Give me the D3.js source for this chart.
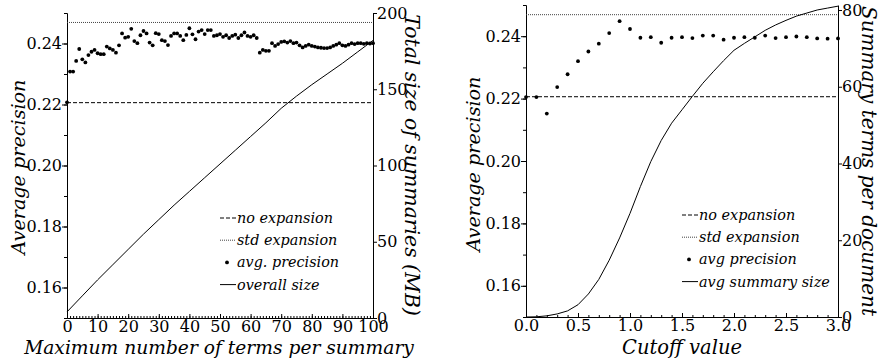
<!DOCTYPE html>
<html>
<head>
<meta charset="utf-8">
<script src="https://cdn.jsdelivr.net/npm/d3@7/dist/d3.min.js"></script>
<style>
  body { margin: 0; background: #fff; }
  svg { display: block; }
  .axis path, .axis line { stroke: #000; }
</style>
</head>
<body>
<svg id="chart" width="887" height="361"></svg>
<script>
// left panel: precision for each maximum number of terms (index = terms, 0..100)
const termsPrecision = [
  0.2207, 0.2308, 0.2308, 0.2343, 0.2382, 0.2348, 0.2338, 0.2362, 0.2373, 0.2379,
  0.2368, 0.2365, 0.2365, 0.2390, 0.2384, 0.2379, 0.2370, 0.2394, 0.2433, 0.2419,
  0.2422, 0.2448, 0.2408, 0.2401, 0.2427, 0.2441, 0.2433, 0.2403, 0.2394, 0.2434,
  0.2431, 0.2411, 0.2408, 0.2395, 0.2425, 0.2433, 0.2433, 0.2425, 0.2411, 0.2428,
  0.2450, 0.2430, 0.2414, 0.2439, 0.2444, 0.2431, 0.2444, 0.2444, 0.2425, 0.2427,
  0.2431, 0.2422, 0.2427, 0.2418, 0.2425, 0.2429, 0.2418, 0.2427, 0.2436, 0.2425,
  0.2422, 0.2427, 0.2418, 0.2370, 0.2379, 0.2376, 0.2376, 0.2401, 0.2392, 0.2398,
  0.2405, 0.2407, 0.2403, 0.2408, 0.2401, 0.2403, 0.2394, 0.2387, 0.2392, 0.2396,
  0.2392, 0.2390, 0.2387, 0.2386, 0.2385, 0.2385, 0.2387, 0.2392, 0.2396, 0.2401,
  0.2394, 0.2392, 0.2396, 0.2401, 0.2398, 0.2401, 0.2401, 0.2399, 0.2401, 0.2400,
  0.2401
];
const sizeTerms = [0, 5, 10, 15, 20, 25, 30, 35, 40, 45, 50, 55, 60, 65, 70, 75, 80, 85, 90, 95, 100];
const sizeMB = [4, 14.5, 25, 35, 45, 55, 64.5, 74, 83, 92, 101, 110, 119, 128, 137.5, 145.5, 153, 160, 167, 174.5, 182];

// right panel: cutoff values
const cutoffs = [0.0, 0.1, 0.2, 0.3, 0.4, 0.5, 0.6, 0.7, 0.8, 0.9, 1.0, 1.1, 1.2, 1.3, 1.4, 1.5,
  1.6, 1.7, 1.8, 1.9, 2.0, 2.1, 2.2, 2.3, 2.4, 2.5, 2.6, 2.7, 2.8, 2.9, 3.0];
const cutoffPrecision = [0.2205, 0.2205, 0.2152, 0.2237, 0.2278, 0.2320, 0.2351, 0.2376, 0.2410, 0.2448,
  0.2423, 0.2395, 0.2397, 0.2379, 0.2395, 0.2397, 0.2394, 0.2402, 0.2402, 0.2389,
  0.2395, 0.2397, 0.2395, 0.2402, 0.2394, 0.2397, 0.2399, 0.2397, 0.2393, 0.2392, 0.2393];
const cutoffSize = [0, 0.05, 0.3, 0.8, 1.6, 3.2, 6.0, 9.8, 14.8, 20.6, 27, 34, 40.5, 46, 50.5, 54,
  57.5, 60.9, 63.9, 66.8, 69.5, 71.3, 73, 74.7, 76.1, 77.3, 78.4, 79.2, 80, 80.5, 81];

// reference lines
const noExpansion = 0.2206;
const stdExpansion = 0.2469;

// ticks
const precTicks = [0.16, 0.18, 0.20, 0.22, 0.24];
const precMinor = [0.15, 0.16, 0.17, 0.18, 0.19, 0.20, 0.21, 0.22, 0.23, 0.24, 0.25];
const termsTicks = [0, 10, 20, 30, 40, 50, 60, 70, 80, 90, 100];
const mbTicks = [0, 50, 100, 150, 200];
const cutoffTicks = [0, 0.5, 1.0, 1.5, 2.0, 2.5, 3.0];
const docTicks = [0, 20, 40, 60, 80];

const leftLegend = ["no expansion", "std expansion", "avg. precision", "overall size"];
const rightLegend = ["no expansion", "std expansion", "avg precision", "avg summary size"];

const FONT = "DejaVu Serif";
const DOT_R = 1.9;

const svg = d3.select("#chart");

// shrink/grow a text so that its width matches the width it has in the figure
function fitWidth(sel, target) {
  const w = sel.node().getComputedTextLength();
  const fs = parseFloat(sel.attr("font-size"));
  return fs * target / w;
}

function drawPanel(cfg) {
  const g = svg.append("g");
  const x = d3.scaleLinear().domain(cfg.xDomain).range(cfg.xRange);
  const yL = d3.scaleLinear().domain([0.15, 0.25]).range(cfg.yRange);
  const yR = d3.scaleLinear().domain(cfg.yRDomain).range(cfg.yRange);

  // minor ticks
  g.append("g").attr("class", "axis")
    .attr("transform", `translate(0,${cfg.yRange[0]})`)
    .call(d3.axisBottom(x).tickValues(cfg.xMinor).tickSize(-2).tickSizeOuter(0).tickFormat(""));
  g.append("g").attr("class", "axis")
    .attr("transform", `translate(${cfg.xRange[0]},0)`)
    .call(d3.axisLeft(yL).tickValues(precMinor).tickSize(3).tickSizeOuter(0).tickFormat(""));

  // main axes
  const axes = [];
  axes.push(g.append("g").attr("class", "axis")
    .attr("transform", `translate(0,${cfg.yRange[0]})`)
    .call(d3.axisBottom(x).tickValues(cfg.xTicks).tickSize(-4).tickSizeOuter(0).tickPadding(3)
      .tickFormat(cfg.xFormat)));
  const leftAxis = g.append("g").attr("class", "axis")
    .attr("transform", `translate(${cfg.xRange[0]},0)`)
    .call(d3.axisLeft(yL).tickValues(precTicks).tickSize(5).tickSizeOuter(0).tickPadding(0)
      .tickFormat(d3.format(".2f")));
  axes.push(leftAxis);
  axes.push(g.append("g").attr("class", "axis")
    .attr("transform", `translate(${cfg.xRange[1]},0)`)
    .call(d3.axisRight(yR).tickValues(cfg.yRTicks).tickSize(4).tickSizeOuter(0).tickPadding(0)));
  axes.forEach(a => a.attr("font-family", FONT).attr("font-size", 18)
    .selectAll("text").attr("fill", "#000"));
  const tickFs = fitWidth(leftAxis.select(".tick:last-of-type text"), cfg.tickWidth);
  axes.forEach(a => a.attr("font-size", tickFs));

  // reference lines
  g.append("line")
    .attr("x1", x(cfg.xDomain[0])).attr("x2", x(cfg.xDomain[1]))
    .attr("y1", yL(noExpansion)).attr("y2", yL(noExpansion))
    .attr("stroke", "#000").attr("stroke-width", 1).attr("stroke-dasharray", "4,2");
  g.append("line")
    .attr("x1", x(cfg.xDomain[0])).attr("x2", x(cfg.xDomain[1]))
    .attr("y1", yL(stdExpansion)).attr("y2", yL(stdExpansion))
    .attr("stroke", "#444").attr("stroke-width", 1).attr("stroke-dasharray", "1,1");

  // size curve
  g.append("path")
    .datum(cfg.sizeX.map((v, i) => [v, cfg.sizeY[i]]))
    .attr("fill", "none").attr("stroke", "#000").attr("stroke-width", 1)
    .attr("d", d3.line().x(d => x(d[0])).y(d => yR(d[1])));

  // precision dots
  g.selectAll("circle.p")
    .data(cfg.precX.map((v, i) => [v, cfg.precY[i]]))
    .join("circle").attr("class", "p")
    .attr("cx", d => x(d[0])).attr("cy", d => yL(d[1]))
    .attr("r", DOT_R).attr("fill", "#000");

  // axis titles
  const title = (sel, w) => {
    sel.attr("text-anchor", "middle")
      .attr("font-family", FONT).attr("font-size", 24).attr("font-style", "italic");
    sel.attr("font-size", fitWidth(sel, w));
  };
  g.append("text")
    .attr("transform", `translate(${cfg.leftTitleX},${cfg.leftTitleY}) rotate(-90)`)
    .text("Average precision").call(title, 175);
  g.append("text")
    .attr("transform", `translate(${cfg.rightTitleX},${cfg.rightTitleY}) rotate(90)`)
    .text(cfg.rightTitle).call(title, cfg.rightTitleW);
  g.append("text")
    .attr("x", cfg.xTitleX).attr("y", 354)
    .text(cfg.xTitle).call(title, cfg.xTitleW);

  // legend
  const lg = g.append("g").attr("transform", `translate(${cfg.legendX},${cfg.legendY})`)
    .attr("font-family", FONT).attr("font-size", 18).attr("font-style", "italic");
  const labels = [];
  cfg.legend.forEach((label, i) => {
    const ry = i * 22.2;
    if (i === 0) {
      lg.append("line").attr("x1", 0).attr("x2", 16).attr("y1", ry).attr("y2", ry)
        .attr("stroke", "#000").attr("stroke-dasharray", "4,2");
    } else if (i === 1) {
      lg.append("line").attr("x1", 0).attr("x2", 16).attr("y1", ry).attr("y2", ry)
        .attr("stroke", "#444").attr("stroke-dasharray", "1,1");
    } else if (i === 2) {
      lg.append("circle").attr("cx", 7).attr("cy", ry).attr("r", DOT_R).attr("fill", "#000");
    } else {
      lg.append("line").attr("x1", 0).attr("x2", 16).attr("y1", ry).attr("y2", ry)
        .attr("stroke", "#000");
    }
    labels.push(lg.append("text").attr("x", 17).attr("y", ry + 5).text(label));
  });
  const lt = labels[cfg.legendFitIndex].attr("font-size", 18);
  lg.attr("font-size", fitWidth(lt, cfg.legendFitW));
  lt.attr("font-size", null);
}

drawPanel({
  xDomain: [0, 100], xRange: [67, 373], yRange: [318, 13], yRDomain: [0, 200],
  xTicks: termsTicks, xMinor: d3.range(0, 101, 1), xFormat: d3.format("d"),
  yRTicks: mbTicks, tickWidth: 31.5,
  sizeX: sizeTerms, sizeY: sizeMB,
  precX: termsPrecision.map((d, i) => i), precY: termsPrecision,
  leftTitleX: 25, leftTitleY: 167, rightTitleX: 405, rightTitleY: 165, rightTitleW: 302,
  rightTitle: "Total size of summaries (MB)",
  xTitle: "Maximum number of terms per summary", xTitleX: 219, xTitleW: 390,
  legend: leftLegend, legendX: 220, legendY: 218, legendFitIndex: 0, legendFitW: 96
});

drawPanel({
  xDomain: [0, 3], xRange: [526, 838], yRange: [317, 5], yRDomain: [0, 81.3],
  xTicks: cutoffTicks, xMinor: d3.range(0, 3.01, 0.1), xFormat: d3.format(".1f"),
  yRTicks: docTicks, tickWidth: 33.5,
  sizeX: cutoffs, sizeY: cutoffSize,
  precX: cutoffs, precY: cutoffPrecision,
  leftTitleX: 480, leftTitleY: 164, rightTitleX: 862, rightTitleY: 161, rightTitleW: 310,
  rightTitle: "Summary terms per document",
  xTitle: "Cutoff value", xTitleX: 682, xTitleW: 120,
  legend: rightLegend, legendX: 682, legendY: 215, legendFitIndex: 3, legendFitW: 131
});
</script>
</body>
</html>
